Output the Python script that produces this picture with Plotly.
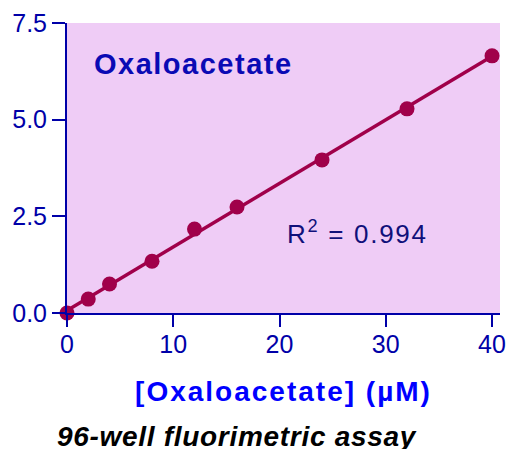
import numpy as np
import plotly.graph_objects as go

conc = [0, 2, 4, 8, 12, 16, 24, 32, 40]
signal = [0.0, 0.36, 0.75, 1.34, 2.17, 2.74, 3.96, 5.28, 6.65]
x_ticks = [0, 10, 20, 30, 40]
y_ticks = [0.0, 2.5, 5.0, 7.5]
y_tick_labels = ["0.0", "2.5", "5.0", "7.5"]

slope, intercept = np.polyfit(conc, signal, 1)
fit_x = [min(conc), max(conc)]
fit_y = [slope * v + intercept for v in fit_x]

MARK = "#A0004A"
AX = "#0000A8"
FONT = "Liberation Sans, Arial, sans-serif"

fig = go.Figure()
fig.add_trace(go.Scatter(x=fit_x, y=fit_y, mode="lines",
                         line=dict(color=MARK, width=3.5), cliponaxis=False,
                         hoverinfo="skip"))
fig.add_trace(go.Scatter(x=conc, y=signal, mode="markers",
                         marker=dict(color=MARK, size=15), cliponaxis=False))

PW = 433
PH = 290
fig.update_layout(
    width=508, height=449,
    margin=dict(l=67, r=8, t=23, b=136, autoexpand=False),
    paper_bgcolor="white", plot_bgcolor="#EFCCF6",
    showlegend=False,
    font=dict(family=FONT, color=AX, size=25),
    xaxis=dict(range=[0, 40.75], tickvals=x_ticks, showgrid=False, zeroline=False,
               showline=True, linecolor=AX, linewidth=2, ticks="outside",
               ticklen=12, tickwidth=2, tickcolor=AX, ticklabelstandoff=-4,
               tickfont=dict(size=25, color=AX),
               title=dict(text='<span style="letter-spacing:2px"><b>[Oxaloacetate] (µM)</b></span>',
                          font=dict(size=28, color="#0000FF"), standoff=24)),
    yaxis=dict(range=[0, 7.5], tickvals=y_ticks, ticktext=y_tick_labels,
               showgrid=False, zeroline=False,
               showline=True, linecolor=AX, linewidth=2, ticks="outside",
               ticklen=13, tickwidth=2, tickcolor=AX,
               tickfont=dict(size=25, color=AX)),
    annotations=[
        dict(text='<span style="letter-spacing:1.5px"><b>Oxaloacetate</b></span>',
             xref="paper", yref="paper",
             x=25 / PW, y=(290 - 41) / PH, xanchor="left", yanchor="middle",
             showarrow=False, font=dict(size=29, color="#0A0AB4", family=FONT)),
        dict(text='<span style="letter-spacing:1.7px">R<sup>2</sup> = 0.994</span>',
             xref="paper", yref="paper",
             x=218 / PW, y=(290 - 209) / PH, xanchor="left", yanchor="middle",
             showarrow=False, font=dict(size=26, color="#10107A", family=FONT)),
        dict(text='<span style="letter-spacing:0.7px"><b><i>96-well fluorimetric assay</i></b></span>',
             xref="paper", yref="paper", x=-12 / PW, y=-0.425,
             xanchor="left", yanchor="middle",
             showarrow=False, font=dict(size=28, color="black", family=FONT)),
    ],
)

fig.write_html(
    "out.html",
    config={"displayModeBar": False},
    post_script="document.body.style.margin='0';document.body.style.overflow='hidden';",
)
